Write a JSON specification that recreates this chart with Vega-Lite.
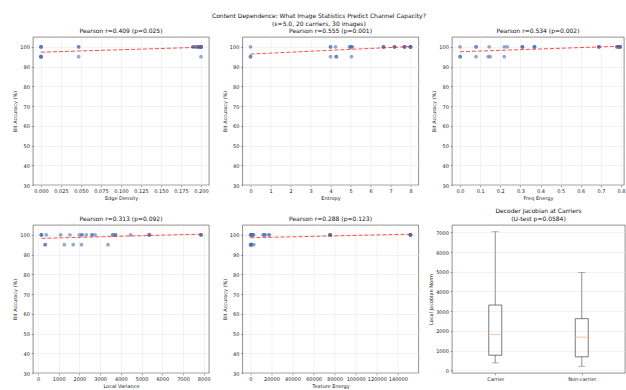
{
  "$schema": "https://vega.github.io/schema/vega-lite/v6.json",
  "padding": {"left": 12, "top": 12, "right": 0, "bottom": 0},
  "background": "white",
  "title": {"text": ["Content Dependence: What Image Statistics Predict Channel Capacity?", "(ε=5.0, 20 carriers, 30 images)"], "fontSize": 6, "lineHeight": 8, "anchor": "middle", "offset": 1, "color": "#111"},
  "config": {
    "font": "DejaVu Sans",
    "view": {"stroke": "#444", "strokeWidth": 0.6},
    "axis": {"labelFontSize": 5, "titleFontSize": 5, "labelColor": "#222", "titleColor": "#222", "titleFontWeight": "normal", "tickSize": 1.8, "tickColor": "#444", "tickWidth": 0.5, "domain": false, "gridColor": "#e4e4e4", "gridWidth": 0.5, "labelPadding": 1.8, "titlePadding": 2, "labelFlush": false, "labelOverlap": false, "tickCount": 30},
    "title": {"fontSize": 6, "fontWeight": "normal", "color": "#111", "offset": 3}
  },
  "datasets": {
    "imgs": [
      {"edge": 0, "entropy": 0, "freq": 0.0, "lv": 350, "te": 100, "acc": 95},
      {"edge": 0, "entropy": 0, "freq": 0.002, "lv": 340, "te": 300, "acc": 95},
      {"edge": 0, "entropy": 4.28, "freq": 0.14, "lv": 1270, "te": 600, "acc": 95},
      {"edge": 0, "entropy": 4.3, "freq": 0.15, "lv": 1700, "te": 900, "acc": 95},
      {"edge": 0.047, "entropy": 4.0, "freq": 0.08, "lv": 2100, "te": 1200, "acc": 95},
      {"edge": 0.2, "entropy": 5.05, "freq": 0.22, "lv": 3380, "te": 3200, "acc": 95},
      {"edge": 0, "entropy": 0, "freq": 0.0, "lv": 163, "te": 200, "acc": 100},
      {"edge": 0, "entropy": 4.0, "freq": 0.08, "lv": 163, "te": 400, "acc": 100},
      {"edge": 0, "entropy": 4.0, "freq": 0.08, "lv": 163, "te": 600, "acc": 100},
      {"edge": 0.047, "entropy": 4.25, "freq": 0.145, "lv": 400, "te": 900, "acc": 100},
      {"edge": 0.047, "entropy": 4.95, "freq": 0.22, "lv": 1090, "te": 1200, "acc": 100},
      {"edge": 0.19, "entropy": 5.0, "freq": 0.235, "lv": 1540, "te": 1500, "acc": 100},
      {"edge": 0.19, "entropy": 5.0, "freq": 0.31, "lv": 2000, "te": 2000, "acc": 100},
      {"edge": 0.193, "entropy": 5.05, "freq": 0.31, "lv": 2120, "te": 2500, "acc": 100},
      {"edge": 0.193, "entropy": 5.1, "freq": 0.31, "lv": 2120, "te": 3000, "acc": 100},
      {"edge": 0.196, "entropy": 6.65, "freq": 0.37, "lv": 2330, "te": 12000, "acc": 100},
      {"edge": 0.196, "entropy": 6.65, "freq": 0.37, "lv": 2610, "te": 12800, "acc": 100},
      {"edge": 0.196, "entropy": 6.65, "freq": 0.37, "lv": 2610, "te": 13500, "acc": 100},
      {"edge": 0.199, "entropy": 7.2, "freq": 0.69, "lv": 2760, "te": 14000, "acc": 100},
      {"edge": 0.199, "entropy": 7.2, "freq": 0.69, "lv": 3610, "te": 17500, "acc": 100},
      {"edge": 0.199, "entropy": 7.2, "freq": 0.69, "lv": 3610, "te": 18000, "acc": 100},
      {"edge": 0.199, "entropy": 7.7, "freq": 0.78, "lv": 3740, "te": 75700, "acc": 100},
      {"edge": 0.199, "entropy": 7.7, "freq": 0.78, "lv": 3740, "te": 75700, "acc": 100},
      {"edge": 0.2, "entropy": 7.7, "freq": 0.79, "lv": 4470, "te": 75700, "acc": 100},
      {"edge": 0.2, "entropy": 7.7, "freq": 0.79, "lv": 5370, "te": 75700, "acc": 100},
      {"edge": 0.2, "entropy": 8.0, "freq": 0.79, "lv": 5370, "te": 152000, "acc": 100},
      {"edge": 0.2, "entropy": 8.0, "freq": 0.795, "lv": 5370, "te": 152000, "acc": 100},
      {"edge": 0.2, "entropy": 8.0, "freq": 0.795, "lv": 7870, "te": 152000, "acc": 100},
      {"edge": 0.2, "entropy": 8.0, "freq": 0.795, "lv": 7870, "te": 152000, "acc": 100},
      {"edge": 0.2, "entropy": 8.0, "freq": 0.795, "lv": 7870, "te": 152000, "acc": 100}
    ],
    "jac": [
      {"group": "Carrier", "min": 377, "q1": 764, "median": 1819, "q3": 3311, "max": 7030},
      {"group": "Non-carrier", "min": 204, "q1": 683, "median": 1681, "q3": 2619, "max": 4962}
    ]
  },
  "bounds": "flush",
  "columns": 3,
  "spacing": {"row": 40, "column": 33.5},
  "concat": [
    {
      "width": 176, "height": 148,
      "data": {"name": "imgs"},
      "title": "Pearson r=0.409 (p=0.025)",
      "layer": [
        {"mark": {"type": "point", "filled": true, "size": 14, "color": "#4C72B0", "opacity": 0.6},
         "encoding": {
           "x": {"field": "edge", "type": "quantitative", "scale": {"domain": [-0.01, 0.21], "nice": false, "zero": false}, "axis": {"title": "Edge Density", "values": [0, 0.025, 0.05, 0.075, 0.1, 0.125, 0.15, 0.175, 0.2], "format": ".3f", "tickCount": 30}},
           "y": {"field": "acc", "type": "quantitative", "scale": {"domain": [30, 105], "nice": false, "zero": false}, "axis": {"title": "Bit Accuracy (%)", "values": [30, 40, 50, 60, 70, 80, 90, 100], "format": "d", "tickCount": 30}}}},
        {"transform": [{"regression": "acc", "on": "edge"}],
         "mark": {"type": "line", "color": "#ff0000", "opacity": 0.7, "strokeDash": [4, 2], "strokeWidth": 1},
         "encoding": {"x": {"field": "edge", "type": "quantitative"}, "y": {"field": "acc", "type": "quantitative"}}}
      ]
    },
    {
      "width": 176, "height": 148,
      "data": {"name": "imgs"},
      "title": "Pearson r=0.555 (p=0.001)",
      "layer": [
        {"mark": {"type": "point", "filled": true, "size": 14, "color": "#4C72B0", "opacity": 0.6},
         "encoding": {
           "x": {"field": "entropy", "type": "quantitative", "scale": {"domain": [-0.4, 8.4], "nice": false, "zero": false}, "axis": {"title": "Entropy", "values": [0, 1, 2, 3, 4, 5, 6, 7, 8], "format": "d", "tickCount": 30}},
           "y": {"field": "acc", "type": "quantitative", "scale": {"domain": [30, 105], "nice": false, "zero": false}, "axis": {"title": "Bit Accuracy (%)", "values": [30, 40, 50, 60, 70, 80, 90, 100], "format": "d", "tickCount": 30}}}},
        {"transform": [{"regression": "acc", "on": "entropy"}],
         "mark": {"type": "line", "color": "#ff0000", "opacity": 0.7, "strokeDash": [4, 2], "strokeWidth": 1},
         "encoding": {"x": {"field": "entropy", "type": "quantitative"}, "y": {"field": "acc", "type": "quantitative"}}}
      ]
    },
    {
      "width": 172, "height": 148,
      "data": {"name": "imgs"},
      "title": "Pearson r=0.534 (p=0.002)",
      "layer": [
        {"mark": {"type": "point", "filled": true, "size": 14, "color": "#4C72B0", "opacity": 0.6},
         "encoding": {
           "x": {"field": "freq", "type": "quantitative", "scale": {"domain": [-0.03975, 0.8149], "nice": false, "zero": false}, "axis": {"title": "Freq Energy", "values": [0, 0.1, 0.2, 0.3, 0.4, 0.5, 0.6, 0.7, 0.8], "format": ".1f", "tickCount": 30}},
           "y": {"field": "acc", "type": "quantitative", "scale": {"domain": [30, 105], "nice": false, "zero": false}, "axis": {"title": "Bit Accuracy (%)", "values": [30, 40, 50, 60, 70, 80, 90, 100], "format": "d", "tickCount": 30}}}},
        {"transform": [{"regression": "acc", "on": "freq"}],
         "mark": {"type": "line", "color": "#ff0000", "opacity": 0.7, "strokeDash": [4, 2], "strokeWidth": 1},
         "encoding": {"x": {"field": "freq", "type": "quantitative"}, "y": {"field": "acc", "type": "quantitative"}}}
      ]
    },
    {
      "width": 176, "height": 148,
      "data": {"name": "imgs"},
      "title": "Pearson r=0.313 (p=0.092)",
      "layer": [
        {"mark": {"type": "point", "filled": true, "size": 14, "color": "#4C72B0", "opacity": 0.6},
         "encoding": {
           "x": {"field": "lv", "type": "quantitative", "scale": {"domain": [-242, 8256], "nice": false, "zero": false}, "axis": {"title": "Local Variance", "values": [0, 1000, 2000, 3000, 4000, 5000, 6000, 7000, 8000], "format": "d", "tickCount": 30}},
           "y": {"field": "acc", "type": "quantitative", "scale": {"domain": [30, 105], "nice": false, "zero": false}, "axis": {"title": "Bit Accuracy (%)", "values": [30, 40, 50, 60, 70, 80, 90, 100], "format": "d", "tickCount": 30}}}},
        {"transform": [{"regression": "acc", "on": "lv"}],
         "mark": {"type": "line", "color": "#ff0000", "opacity": 0.7, "strokeDash": [4, 2], "strokeWidth": 1},
         "encoding": {"x": {"field": "lv", "type": "quantitative"}, "y": {"field": "acc", "type": "quantitative"}}}
      ]
    },
    {
      "width": 176, "height": 148,
      "data": {"name": "imgs"},
      "title": "Pearson r=0.288 (p=0.123)",
      "layer": [
        {"mark": {"type": "point", "filled": true, "size": 14, "color": "#4C72B0", "opacity": 0.6},
         "encoding": {
           "x": {"field": "te", "type": "quantitative", "scale": {"domain": [-7495, 159600], "nice": false, "zero": false}, "axis": {"title": "Texture Energy", "values": [0, 20000, 40000, 60000, 80000, 100000, 120000, 140000], "format": "d", "tickCount": 30}},
           "y": {"field": "acc", "type": "quantitative", "scale": {"domain": [30, 105], "nice": false, "zero": false}, "axis": {"title": "Bit Accuracy (%)", "values": [30, 40, 50, 60, 70, 80, 90, 100], "format": "d", "tickCount": 30}}}},
        {"transform": [{"regression": "acc", "on": "te"}],
         "mark": {"type": "line", "color": "#ff0000", "opacity": 0.7, "strokeDash": [4, 2], "strokeWidth": 1},
         "encoding": {"x": {"field": "te", "type": "quantitative"}, "y": {"field": "acc", "type": "quantitative"}}}
      ]
    },
    {
      "width": 173, "height": 148,
      "data": {"name": "jac"},
      "title": {"text": ["Decoder Jacobian at Carriers", "(U-test p=0.0584)"], "lineHeight": 8},
      "encoding": {
        "x": {"field": "group", "type": "nominal", "scale": {"type": "point", "padding": 0.5}, "axis": {"title": null, "labelAngle": 0, "grid": false}}
      },
      "layer": [
        {"mark": {"type": "rule", "color": "#999", "strokeWidth": 1.1},
         "encoding": {"y": {"field": "min", "type": "quantitative", "scale": {"domain": [-137, 7371], "nice": false, "zero": false}, "axis": {"title": "Local Jacobian Norm", "values": [0, 1000, 2000, 3000, 4000, 5000, 6000, 7000], "format": "d", "tickCount": 30}}, "y2": {"field": "q1"}}},
        {"mark": {"type": "rule", "color": "#999", "strokeWidth": 1.1},
         "encoding": {"y": {"field": "q3", "type": "quantitative"}, "y2": {"field": "max"}}},
        {"mark": {"type": "bar", "size": 13, "fillOpacity": 0, "stroke": "#444", "strokeWidth": 0.7},
         "encoding": {"y": {"field": "q1", "type": "quantitative"}, "y2": {"field": "q3"}}},
        {"mark": {"type": "tick", "orient": "horizontal", "size": 7, "thickness": 0.8, "color": "#777"},
         "encoding": {"y": {"field": "min", "type": "quantitative"}}},
        {"mark": {"type": "tick", "orient": "horizontal", "size": 7, "thickness": 0.8, "color": "#777"},
         "encoding": {"y": {"field": "max", "type": "quantitative"}}},
        {"mark": {"type": "tick", "orient": "horizontal", "size": 13, "thickness": 1.1, "color": "#ffb37a"},
         "encoding": {"y": {"field": "median", "type": "quantitative"}}}
      ]
    }
  ]
}
